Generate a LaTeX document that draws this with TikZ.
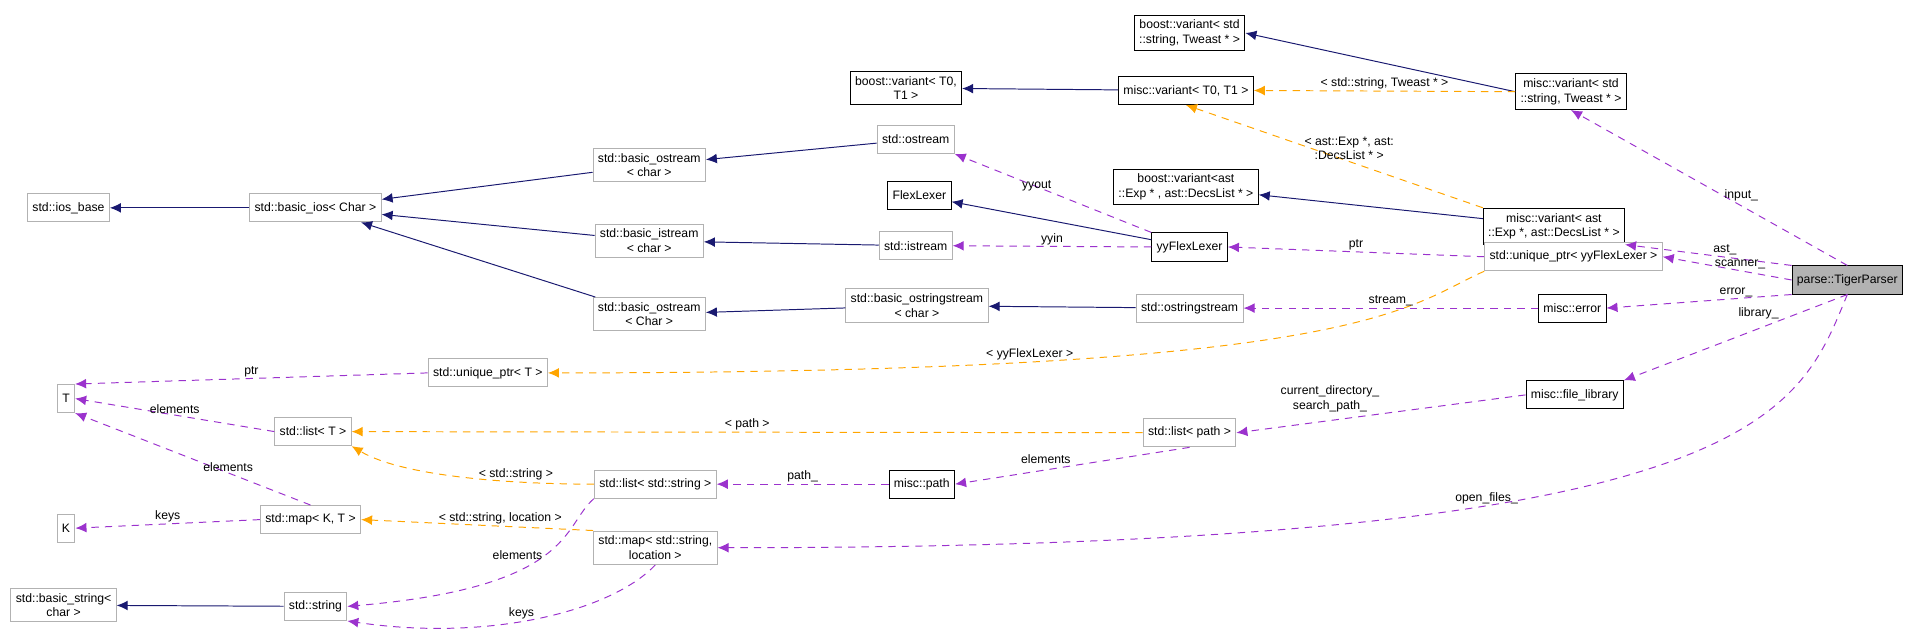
\documentclass[tikz,border=0pt]{standalone}
\usepackage{fontspec}
\setmainfont{Liberation Sans}
\usetikzlibrary{arrows.meta}
\definecolor{tplcol}{RGB}{255,165,0}
\definecolor{usecol}{RGB}{155,50,205}
\definecolor{inhcol}{RGB}{25,25,112}
\begin{document}
\begin{tikzpicture}[x=1pt,y=-1pt,
    cls/.style={draw=black, line width=0.8pt, fill=white, align=center,
        inner sep=4pt, minimum height=23pt, font=\fontsize{10}{12}\selectfont},
    ext/.style={cls, draw=black!30},
    inh/.style={draw=inhcol, line width=0.8pt, -{Latex[length=9pt,width=8pt]}},
    tpl/.style={draw=tplcol, line width=0.8pt, dash pattern=on 6pt off 5pt, -{Latex[length=9pt,width=8pt]}},
    use/.style={draw=usecol, line width=0.8pt, dash pattern=on 6pt off 5pt, -{Latex[length=9pt,width=8pt]}},
    lbl/.style={font=\fontsize{10}{12}\selectfont, align=center, inner sep=1pt}
]
    \useasboundingbox (0,0) rectangle (1568,515);
    \node[cls] (bv1) at (973,27) {boost::variant< std\\::string, Tweast * >};
    \node[cls] (mv1) at (1285,75) {misc::variant< std\\::string, Tweast * >};
    \node[cls] (bv0) at (741,72) {boost::variant< T0,\\T1 >};
    \node[cls] (mv0) at (970,74) {misc::variant< T0, T1 >};
    \node[ext] (ostream) at (749,114) {std::ostream};
    \node[ext] (bostc) at (531,135) {std::basic\_ostream\\< char >};
    \node[cls] (bv2) at (970,153) {boost::variant<ast\\::Exp * , ast::DecsList * >};
    \node[cls] (mv2) at (1271,185) {misc::variant< ast\\::Exp *, ast::DecsList * >};
    \node[cls] (flex) at (752,160) {FlexLexer};
    \node[ext] (iosbase) at (56,170) {std::ios\_base};
    \node[ext] (bios) at (258,170) {std::basic\_ios< Char >};
    \node[ext] (bist) at (531,197) {std::basic\_istream\\< char >};
    \node[ext] (istream) at (749,201) {std::istream};
    \node[cls] (yyflex) at (973,202) {yyFlexLexer};
    \node[ext] (uptryy) at (1287,210) {std::unique\_ptr< yyFlexLexer >};
    \node[cls, fill=black!30] (parser) at (1511,229) {parse::TigerParser};
    \node[cls] (error) at (1286,252) {misc::error};
    \node[ext] (oss) at (973,252) {std::ostringstream};
    \node[ext] (boss) at (750,250) {std::basic\_ostringstream\\< char >};
    \node[ext] (bostC) at (531,257) {std::basic\_ostream\\< Char >};
    \node[ext] (uptrT) at (399,305) {std::unique\_ptr< T >};
    \node[cls] (filelib) at (1288,323) {misc::file\_library};
    \node[ext] (T) at (54,326) {T};
    \node[ext] (listT) at (256,353) {std::list< T >};
    \node[ext] (listpath) at (973,354) {std::list< path >};
    \node[ext] (liststr) at (536,396) {std::list< std::string >};
    \node[cls] (path) at (754,396) {misc::path};
    \node[ext] (K) at (54,432) {K};
    \node[ext] (mapKT) at (254,425) {std::map< K, T >};
    \node[ext] (mapstr) at (536,448) {std::map< std::string,\\location >};
    \node[ext] (bstr) at (52,495) {std::basic\_string<\\char >};
    \node[ext] (str) at (258,496) {std::string};

    % inheritance
    \draw[inh] (mv1.west) -- (bv1.east);
    \draw[inh] (mv0) -- (bv0);
    \draw[inh] (mv2) -- (bv2);
    \draw[inh] (ostream) -- (bostc);
    \draw[inh] (bostc) -- (bios);
    \draw[inh] (bist) -- (bios);
    \draw[inh] (bostC) -- (bios);
    \draw[inh] (bios) -- (iosbase);
    \draw[inh] (istream) -- (bist);
    \draw[inh] (yyflex) -- (flex);
    \draw[inh] (oss) -- (boss);
    \draw[inh] (boss) -- (bostC);
    \draw[inh] (str) -- (bstr);

    % templates
    \draw[tpl] (mv1.west) -- node[lbl, above] {< std::string, Tweast * >} (mv0.east);
    \draw[tpl] (mv2.north west) -- node[lbl, above, pos=0.45] {< ast::Exp *, ast:\\:DecsList * >} (mv0.south);
    \draw[tpl] (uptryy.south west) .. controls (1150,250) and (1120,305) .. node[lbl, above, pos=0.75] {< yyFlexLexer >} (uptrT.east);
    \draw[tpl] (listpath) -- node[lbl, above] {< path >} (listT);
    \draw[tpl] (liststr.west) .. controls (420,396) and (330,390) .. node[lbl, above, pos=0.3] {< std::string >} (listT.south east);
    \draw[tpl] (mapstr.north west) -- node[lbl, above, pos=0.4] {< std::string, location >} (mapKT.east);

    % usage
    \draw[use] (parser.north) -- node[lbl, pos=0.45, right] {input\_} (mv1.south);
    \draw[use] (parser.north west) -- node[lbl, pos=0.4, above] {ast\_} (mv2.south east);
    \draw[use] (parser.west) -- node[lbl, above, pos=0.4] {scanner\_} (uptryy.east);
    \draw[use] (parser.south west) -- node[lbl, above, pos=0.3] {error\_} (error.east);
    \draw[use] (parser.south) -- node[lbl, above left, pos=0.3] {library\_} (filelib.north east);
    \draw[use] (parser.south) .. controls (1470,340) and (1440,448) .. node[lbl, above, pos=0.65] {open\_files\_} (mapstr.east);
    \draw[use] (uptryy.west) -- node[lbl, above] {ptr} (yyflex.east);
    \draw[use] (yyflex.north west) -- node[lbl, above left] {yyout} (ostream.south east);
    \draw[use] (yyflex.west) -- node[lbl, above] {yyin} (istream.east);
    \draw[use] (error.west) -- node[lbl, above] {stream\_} (oss.east);
    \draw[use] (filelib.west) -- node[lbl, above left] {current\_directory\_\\search\_path\_} (listpath.east);
    \draw[use] (listpath.south) -- node[lbl, above left] {elements} (path.east);
    \draw[use] (path.west) -- node[lbl, above] {path\_} (liststr.east);
    \draw[use] (uptrT.west) -- node[lbl, above] {ptr} (T.north east);
    \draw[use] (listT.west) -- node[lbl, above] {elements} (T.east);
    \draw[use] (mapKT.north) -- node[lbl, above, pos=0.35] {elements} (T.south east);
    \draw[use] (mapKT.west) -- node[lbl, above] {keys} (K.east);
    \draw[use] (liststr.south west) .. controls (460,430) and (470,480) .. node[lbl, left, pos=0.5] {elements} (str.east);
    \draw[use] (mapstr.south) .. controls (500,500) and (400,525) .. node[lbl, above, pos=0.55] {keys} (str.south east);
\end{tikzpicture}
\end{document}
